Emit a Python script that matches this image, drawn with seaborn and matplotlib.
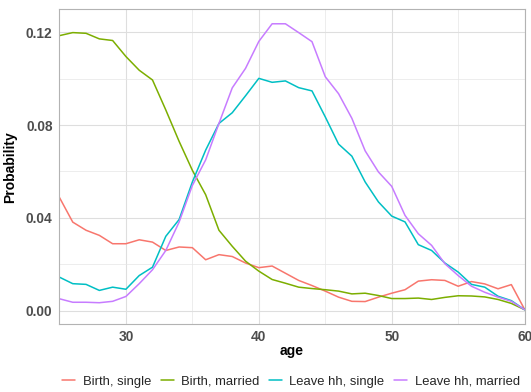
import numpy as np
import pandas as pd
import matplotlib
matplotlib.use("Agg")
import matplotlib.pyplot as plt
import seaborn as sns
from matplotlib.ticker import MultipleLocator, FormatStrFormatter

ages = list(range(25, 61))

birth_single = [0.0488, 0.0382, 0.0347, 0.0325, 0.0289, 0.0289, 0.0306, 0.0296,
                0.0260, 0.0275, 0.0272, 0.0220, 0.0242, 0.0234, 0.0206, 0.0186,
                0.0193, 0.0162, 0.0131, 0.0109, 0.0085, 0.0059, 0.0041, 0.0040,
                0.0059, 0.0076, 0.0091, 0.0128, 0.0134, 0.0131, 0.0106, 0.0126,
                0.0116, 0.0095, 0.0113, 0.0006]

birth_married = [0.1185, 0.1198, 0.1195, 0.1171, 0.1164, 0.1095, 0.1036, 0.0994,
                 0.0865, 0.0730, 0.0605, 0.0500, 0.0347, 0.0278, 0.0214, 0.0171,
                 0.0135, 0.0119, 0.0102, 0.0096, 0.0091, 0.0085, 0.0073, 0.0076,
                 0.0066, 0.0053, 0.0053, 0.0055, 0.0049, 0.0058, 0.0065, 0.0064,
                 0.0060, 0.0049, 0.0032, 0.0005]

leave_single = [0.0145, 0.0117, 0.0114, 0.0088, 0.0102, 0.0093, 0.0152, 0.0188,
                0.0321, 0.0393, 0.0555, 0.0692, 0.0807, 0.0853, 0.0926, 0.1001,
                0.0984, 0.0990, 0.0961, 0.0947, 0.0835, 0.0718, 0.0666, 0.0555,
                0.0469, 0.0408, 0.0383, 0.0285, 0.0260, 0.0206, 0.0167, 0.0114,
                0.0102, 0.0063, 0.0044, 0.0005]

leave_married = [0.0052, 0.0037, 0.0037, 0.0035, 0.0041, 0.0062, 0.0117, 0.0177,
                 0.0260, 0.0382, 0.0540, 0.0650, 0.0807, 0.0960, 0.1044, 0.1160,
                 0.1236, 0.1236, 0.1198, 0.1159, 0.1008, 0.0935, 0.0829, 0.0689,
                 0.0598, 0.0536, 0.0411, 0.0332, 0.0282, 0.0203, 0.0152, 0.0106,
                 0.0080, 0.0059, 0.0041, 0.0005]

series_names = ["Birth, single", "Birth, married", "Leave hh, single", "Leave hh, married"]
series_values = [birth_single, birth_married, leave_single, leave_married]
colors = ["#F8766D", "#7CAE00", "#00BFC4", "#C77CFF"]

df = pd.concat(
    [pd.DataFrame({"age": ages, "Probability": vals, "event": name})
     for name, vals in zip(series_names, series_values)],
    ignore_index=True,
)

sns.set_theme(style="white")
plt.rcParams["font.family"] = ["Liberation Sans", "DejaVu Sans"]

fig = plt.figure(figsize=(5.31, 3.92), dpi=100)
ax = fig.add_axes([0.112, 0.1735, 0.876, 0.8023])

sns.lineplot(data=df, x="age", y="Probability", hue="event",
             hue_order=series_names, palette=colors, linewidth=1.1,
             ax=ax, legend=False)

ax.set_xlim(25, 60)
ymin, ymax = df["Probability"].min(), df["Probability"].max()
pad = 0.05 * (ymax - ymin)
ax.set_ylim(ymin - pad, ymax + pad)

ax.xaxis.set_major_locator(MultipleLocator(10))
ax.xaxis.set_minor_locator(MultipleLocator(5))
ax.yaxis.set_major_locator(MultipleLocator(0.04))
ax.yaxis.set_minor_locator(MultipleLocator(0.02))
ax.yaxis.set_major_formatter(FormatStrFormatter("%.2f"))
ax.set_xticks([30, 40, 50, 60])

ax.grid(which="major", color="#DEDEDE", linewidth=0.8)
ax.grid(which="minor", color="#E6E6E6", linewidth=0.5)
ax.set_axisbelow(True)

for sp in ax.spines.values():
    sp.set_color("#B3B3B3")
    sp.set_linewidth(0.8)

ax.tick_params(axis="both", which="major", length=3, width=0.6, color="#B3B3B3",
               labelsize=9.9, labelcolor="#4D4D4D", pad=2)
ax.tick_params(axis="x", which="major", pad=1)
ax.tick_params(axis="both", which="minor", length=0)
for lab in ax.get_xticklabels() + ax.get_yticklabels():
    lab.set_fontweight("bold")

ax.set_xlabel("age", fontsize=10, fontweight="bold", color="black", labelpad=0)
ax.set_ylabel("Probability", fontsize=10, fontweight="bold", color="black", labelpad=6)

handles = [plt.Line2D([], [], color=c, linewidth=1.1) for c in colors]
fig.legend(handles, series_names, loc="center", bbox_to_anchor=(0.548, 0.026),
           ncol=4, frameon=False, fontsize=9.4, handlelength=1.0,
           handletextpad=0.55, columnspacing=0.75, borderaxespad=0, borderpad=0)

fig.savefig("out.png", dpi=100)
